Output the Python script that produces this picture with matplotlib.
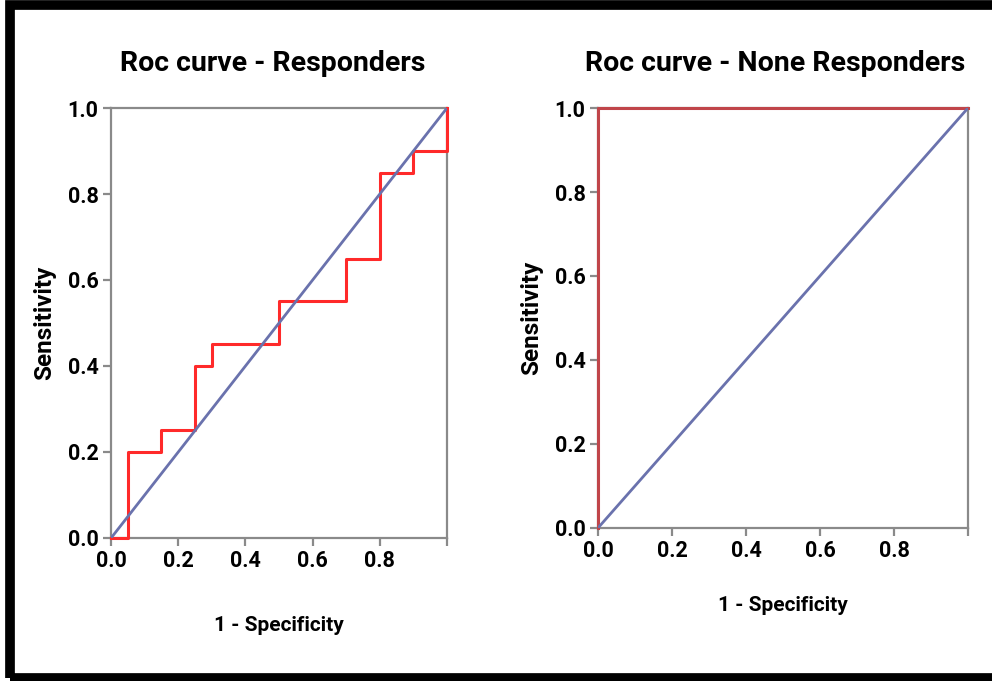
import matplotlib.pyplot as plt
from matplotlib.patches import Rectangle

# ROC step curve, responders (1 - specificity, sensitivity)
resp_fpr = [0.0, 0.05, 0.05, 0.15, 0.15, 0.25, 0.25, 0.30, 0.30, 0.50, 0.50,
            0.70, 0.70, 0.80, 0.80, 0.90, 0.90, 1.0, 1.0]
resp_tpr = [0.0, 0.0, 0.20, 0.20, 0.25, 0.25, 0.40, 0.40, 0.45, 0.45, 0.55,
            0.55, 0.65, 0.65, 0.85, 0.85, 0.90, 0.90, 1.0]

# ROC curve, none responders
nonresp_fpr = [0.0, 0.0, 1.0]
nonresp_tpr = [0.0, 1.0, 1.0]

ref_line = [0.0, 1.0]
ticks = [0.0, 0.2, 0.4, 0.6, 0.8, 1.0]
xtick_labels = ["0.0", "0.2", "0.4", "0.6", "0.8", ""]
ytick_labels = ["0.0", "0.2", "0.4", "0.6", "0.8", "1.0"]

plt.rcParams["font.family"] = ["Roboto", "DejaVu Sans"]
plt.rcParams["font.weight"] = "bold"

fig = plt.figure(figsize=(9.92, 6.81), dpi=100)

ax1 = fig.add_axes([0.112, 0.210, 0.3386, 0.6314])
ax2 = fig.add_axes([0.6028, 0.2247, 0.373, 0.6167])


def style(ax, title, xpad):
    ax.plot(ref_line, ref_line, color="#6a72ad", lw=2, zorder=4)
    ax.set_xlim(0, 1)
    ax.set_ylim(0, 1)
    ax.set_xticks(ticks)
    ax.set_yticks(ticks)
    ax.set_xticklabels(xtick_labels, fontsize=15.5, fontweight="bold")
    ax.set_yticklabels(ytick_labels, fontsize=15.5, fontweight="bold")
    for sp in ax.spines.values():
        sp.set_color("#8a8a8a")
        sp.set_linewidth(1.6)
    ax.tick_params(color="#8a8a8a", width=1.6, length=6, pad=3)
    ax.set_title(title, fontsize=20.5, fontweight="bold", pad=27, x=0.48)
    ax.set_xlabel("1 - Specificity", fontsize=15, fontweight="bold", labelpad=xpad)
    ax.set_ylabel("Sensitivity", fontsize=17.5, fontweight="bold", labelpad=8)


ax1.plot(resp_fpr, resp_tpr, color="#ff2a2a", lw=2.2, clip_on=False, zorder=3)
style(ax1, "Roc curve - Responders", 31)

ax2.plot(nonresp_fpr, nonresp_tpr, color="#c0454a", lw=2.2, clip_on=False, zorder=3)
style(ax2, "Roc curve - None Responders", 24)

# black frame around the picture (right edge cut off)
fig.patches.append(Rectangle((9.5 / 992, 3.5 / 681), 1.1, 673 / 681,
                             transform=fig.transFigure, fill=False,
                             edgecolor="black", lw=7))

fig.savefig("out.png", dpi=100)
